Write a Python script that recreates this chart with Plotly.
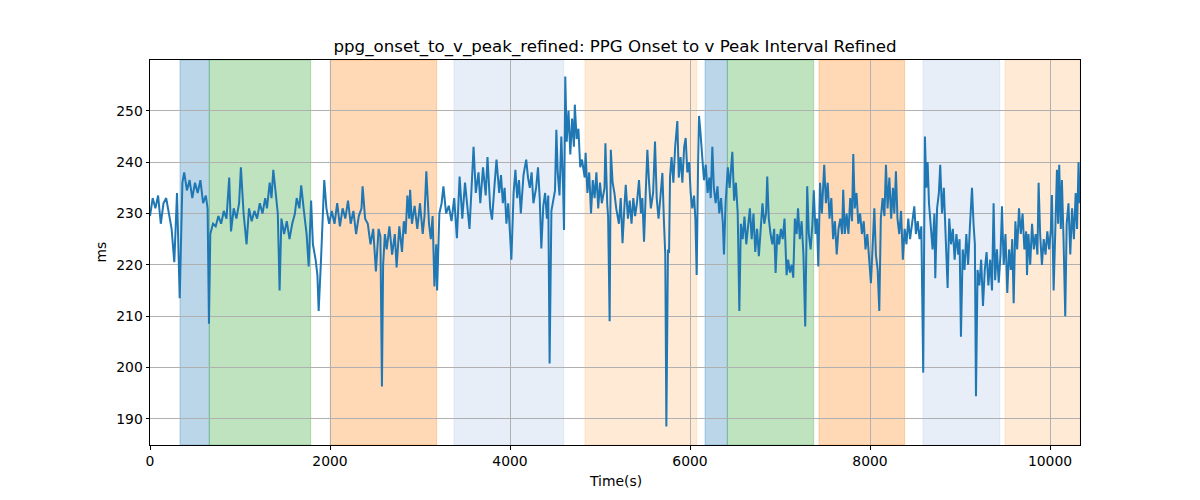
import plotly.graph_objects as go

# ---- data ----
time_s = [0, 30, 60, 90, 120, 150, 180, 210, 240, 270, 300, 330,
          360, 380, 410, 440, 470, 500, 530, 560, 590, 620, 640, 655, 670, 700, 730, 760, 790, 820, 850,
          880, 900, 930, 960, 990, 1010, 1040, 1073, 1100, 1130, 1160, 1190, 1220, 1250, 1280,
          1300, 1330, 1350, 1370, 1400, 1420, 1440, 1460, 1490, 1520, 1550, 1580, 1610, 1630, 1660,
          1680, 1710, 1740, 1763, 1790, 1810, 1840, 1860, 1874, 1900, 1936, 1960, 1990, 2020, 2050,
          2080, 2110, 2140, 2170, 2200, 2230, 2260, 2290, 2320, 2350, 2362, 2390, 2420, 2450, 2480,
          2510, 2540, 2560, 2577,
          2590, 2610, 2630, 2660, 2690, 2720, 2740, 2770, 2800, 2820, 2840, 2860, 2880, 2890, 2910,
          2940, 2970, 3000, 3030, 3050, 3070, 3100, 3120, 3140, 3150, 3160, 3180, 3190, 3215, 3240,
          3260, 3290, 3320, 3350, 3380, 3410, 3440, 3470, 3500, 3530, 3550, 3570, 3595, 3620, 3650,
          3670, 3700, 3730, 3750, 3780, 3800, 3830, 3850, 3880,
          3900, 3920, 3940, 3960, 3980, 4000, 4015, 4040, 4060, 4080, 4100, 4120, 4150, 4180, 4200,
          4220, 4240, 4260, 4290, 4311, 4330, 4348, 4370, 4390, 4410, 4425, 4440, 4460, 4480, 4500,
          4515, 4530, 4550, 4570, 4590, 4600, 4614, 4630, 4650, 4670, 4690, 4710, 4720, 4740, 4760,
          4780, 4800, 4830, 4840, 4860, 4880, 4900, 4920, 4940, 4960, 4980, 5000, 5020, 5050, 5060,
          5080, 5090, 5107, 5120, 5140, 5160,
          5180, 5210, 5230, 5250, 5270, 5286, 5310, 5330, 5350, 5370, 5390, 5410, 5433, 5455, 5470,
          5489, 5510, 5526, 5545, 5565, 5590, 5611, 5630, 5650, 5670, 5693, 5711, 5725, 5737, 5755,
          5767, 5778, 5795, 5815, 5835, 5859, 5875, 5895, 5915, 5935, 5952, 5970, 5990, 6007, 6025,
          6045, 6060, 6074, 6090, 6100, 6115, 6135, 6155, 6175, 6195, 6215, 6230, 6248, 6265, 6285,
          6305, 6325, 6345, 6365, 6377, 6395, 6420,
          6440, 6470, 6490, 6510, 6530, 6548, 6565, 6585, 6605, 6625, 6645, 6665, 6685, 6705, 6725,
          6745, 6765, 6785, 6805, 6825, 6845, 6858, 6875, 6895, 6915, 6935, 6951, 6970, 6990, 7010,
          7030, 7050, 7073, 7090, 7110, 7130, 7147, 7165, 7185, 7200, 7220, 7240, 7260, 7280, 7302,
          7320, 7340, 7360, 7375, 7395, 7410, 7425, 7445, 7465, 7491, 7510, 7530, 7550, 7570, 7590,
          7610, 7630, 7650, 7670, 7690, 7702, 7720,
          7740, 7760, 7780, 7800, 7814, 7830, 7850, 7870, 7890, 7910, 7930, 7950, 7970, 7990, 8010,
          8030, 8048, 8065, 8085, 8103, 8120, 8140, 8160, 8177, 8195, 8215, 8235, 8255, 8270, 8288,
          8305, 8325, 8345, 8365, 8385, 8405, 8425, 8445, 8465, 8492, 8510, 8530, 8550, 8570, 8591,
          8610, 8625, 8640, 8655, 8675, 8695, 8715, 8725, 8745, 8765, 8780, 8800, 8820, 8840, 8862,
          8880, 8900, 8920, 8940, 8960, 8980, 8995, 9010, 9030,
          9050, 9070, 9090, 9110, 9133, 9150, 9165, 9177, 9195, 9215, 9235, 9255, 9275, 9295, 9315,
          9335, 9355, 9373, 9390, 9410, 9430, 9450, 9466, 9485, 9505, 9525, 9545, 9565, 9580, 9596,
          9615, 9635, 9655, 9675, 9695, 9715, 9735, 9744, 9760, 9780, 9800, 9820, 9840, 9860, 9873,
          9890, 9910, 9930, 9950, 9970, 9990, 10010, 10021, 10040, 10060, 10077, 10090, 10102, 10120, 10132,
          10150, 10169, 10185, 10205, 10225, 10245, 10265, 10285, 10300, 10317, 10330]

ms = [229.5, 233, 231, 233.5, 228, 232, 233, 230, 227, 220.5, 234, 213.5,
      236, 238, 234.5, 236.5, 233, 236, 234, 236.5, 232, 233.5, 231, 208.5, 226, 228, 227.5, 229.5, 228, 230.5, 229,
      237, 226.5, 231, 229, 232, 239, 230, 224, 231, 228.5, 230.5, 229, 232, 230, 233,
      231, 236, 233, 238.5, 234, 230, 215, 229, 226, 228.5, 225, 228, 230, 233, 231,
      235.5, 230.5, 226, 219.7, 232.5, 224, 221, 218, 211, 221, 236.5, 231, 228, 230.5, 228,
      232, 227.5, 231, 229, 232.5, 228, 230.5, 226, 229.5, 231, 235.3, 229, 228, 224, 227,
      218.7, 227, 225.5, 196.3,
      220, 226, 223, 227.5, 222, 226, 219.5, 227.5, 222.5, 228.5, 226, 233.5, 229, 234.6, 228,
      231.5, 227, 232, 226, 229.5, 238.2, 228, 225, 229.5, 220, 215.8, 224, 215, 230, 232,
      235.3, 230, 231.5, 228.5, 233, 225.2, 237.2, 229, 236, 231, 227, 234, 243, 234, 238,
      232, 239, 233.5, 241, 231, 228.8, 236, 240.5, 234,
      237.5, 232, 235, 228, 232, 226, 221, 234, 238.5, 233, 236.5, 230, 237.5, 240.5, 237,
      235, 238, 232, 235, 239, 233, 223.2, 231.5, 234, 229, 233.5, 200.8, 230.5, 232.5, 234.5,
      246.3, 238, 233.5, 245, 235, 226.8, 256.7, 244, 250, 241.5, 248.5, 243, 251.2, 244.5, 246.5,
      239, 240.5, 237, 241.8, 234, 238, 230, 236.5, 233, 238, 231, 236, 232, 235, 243.7,
      232, 229.4, 209, 242.4, 236, 234,
      231, 228, 233, 224.2, 231, 235.6, 229, 232.5, 228, 233, 229.5, 232, 236.5, 230, 233,
      224.5, 235, 242.4, 236, 231, 234, 244, 233, 229, 233, 237.9, 228.1, 222, 188.5, 223,
      222.3, 237.2, 241, 236, 243, 248, 237, 241, 236, 243, 244.7, 238, 240, 234, 231,
      233.5, 228.8, 218, 240, 249, 246, 241, 236.5, 239.5, 234, 237, 233, 243, 235, 232,
      235.3, 230, 233, 228, 222, 232, 239,
      235, 242, 232.5, 236, 230, 211, 228, 225, 229.4, 224, 227.5, 231, 225, 230, 222.5,
      227, 221.7, 226, 232, 228, 230, 237.2, 229, 226, 224, 227, 218.4, 226, 224, 227,
      225, 229, 218, 221, 218.5, 220, 217.5, 229, 226, 231, 225, 228.5, 222, 208, 235.3,
      226, 223, 228, 234.5, 226, 229, 219.7, 236, 230, 239.5, 232, 236, 229, 233, 225,
      228.5, 222, 227, 229, 226, 234.6, 226,
      230, 226, 233, 228.5, 241.6, 231, 234, 228, 230, 226, 228.5, 223, 226, 221, 216.4,
      224, 231, 222, 219, 211, 229, 233, 229.5, 239.5, 231, 237, 229, 235, 230, 238.2,
      229, 226, 230.5, 221, 227, 224, 229, 225, 228, 231.4, 226, 228.5, 225, 227.5, 199,
      245, 235, 240, 232, 227, 223, 230, 217.4, 231, 234, 239.5, 230, 235, 226, 215.5,
      229, 224, 227, 221, 226, 222, 225, 206, 223,
      219, 226, 220, 227.5, 235, 228, 224, 194.4, 219, 216, 221, 212, 219, 222.5, 216,
      221, 215, 232, 217, 223, 216.5, 222, 231.4, 220, 226, 214.5, 223, 219, 225, 212.5,
      228.5, 223, 231, 226, 230, 223, 226.5, 218, 226, 220, 228, 223, 226, 222, 236,
      226, 220, 225, 222, 226.5, 223, 227, 233.6, 215, 226, 238.5, 228, 239.5, 227, 236.5,
      225, 210, 228, 232, 222, 231, 225, 234, 227, 240, 232]

band_starts = [333, 659, 2003, 3378, 4833, 6167, 6415, 7433, 8589, 9500]
band_ends = [659, 1785, 3185, 4597, 6074, 6415, 7374, 8385, 9441, 10333]
band_colors = ["31,119,180", "44,160,44", "255,127,14", "174,199,232", "255,187,120",
               "31,119,180", "44,160,44", "255,127,14", "174,199,232", "255,187,120"]

x_ticks = [0, 2000, 4000, 6000, 8000, 10000]
y_ticks = [190, 200, 210, 220, 230, 240, 250]

title_text = "ppg_onset_to_v_peak_refined: PPG Onset to v Peak Interval Refined"
x_label = "Time(s)"
y_label = "ms"

FONT = "DejaVu Sans"
OFF = 8  # page body margin offset

fig = go.Figure()

for s, e, c in zip(band_starts, band_ends, band_colors):
    fig.add_vrect(x0=s, x1=e, fillcolor=f"rgba({c},0.3)",
                  line=dict(color=f"rgba({c},0.3)", width=1), layer="below")

fig.add_trace(go.Scatter(x=time_s, y=ms, mode="lines",
                         line=dict(color="#1f77b4", width=2), showlegend=False,
                         hoverinfo="x+y"))

axis_common = dict(showline=True, linecolor="black", linewidth=1, mirror=True,
                   ticks="outside", ticklen=3.5, tickwidth=1, tickcolor="black",
                   showgrid=True, gridcolor="#b0b0b0", gridwidth=0.8, zeroline=False,
                   tickfont=dict(family=FONT, size=13.9, color="black"))

fig.update_xaxes(range=[0, 10333], tickvals=x_ticks, ticktext=[str(v) for v in x_ticks],
                 **axis_common)
fig.update_yaxes(range=[184.9, 259.9], tickvals=y_ticks, ticktext=[str(v) for v in y_ticks],
                 **axis_common)

fig.update_layout(
    width=1200, height=500,
    margin=dict(l=150 - OFF, r=120 + OFF, t=60 - OFF, b=55 + OFF),
    paper_bgcolor="white", plot_bgcolor="white",
    font=dict(family=FONT, color="black"),
    title=dict(text=title_text, x=0.5, xref="paper", y=1 - (46 - OFF) / 500, yref="container",
               xanchor="center", yanchor="middle", font=dict(family=FONT, size=16.67, color="black")),
    annotations=[
        dict(text=x_label, xref="paper", yref="paper", x=0.5, y=-36 / 385, xanchor="center",
             yanchor="middle", showarrow=False, font=dict(family=FONT, size=13.9, color="black")),
        dict(text=y_label, xref="paper", yref="paper", x=-50 / 930, y=0.5, xanchor="center",
             yanchor="middle", textangle=-90, showarrow=False,
             font=dict(family=FONT, size=13.9, color="black")),
    ],
)

fig.write_html("out.html")
